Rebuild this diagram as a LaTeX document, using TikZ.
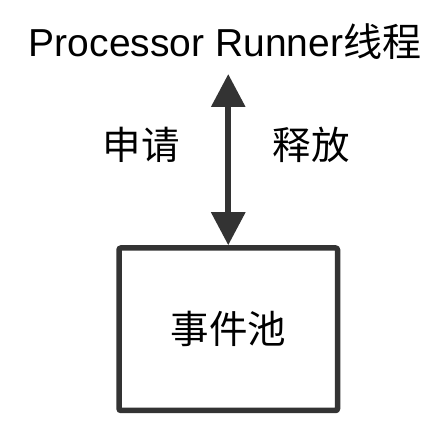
\documentclass[tikz,border=0pt]{standalone}
\usepackage{fontspec}
\setmainfont{Liberation Sans}
\newfontfamily\cjk{Noto Sans CJK SC}
\usetikzlibrary{arrows.meta}
\definecolor{ink}{HTML}{333333}
\tikzset{
  poolbox/.style={draw=ink, line width=5.5pt, rounded corners=2pt, minimum width=218.5pt, minimum height=162.5pt, inner sep=0pt},
  bigtext/.style={font=\fontsize{38.5}{40}\selectfont, text=black, inner sep=0pt},
  titletext/.style={font=\fontsize{39}{40}\selectfont, text=black, inner sep=0pt},
  arrowline/.style={draw=ink, line width=6pt, {Triangle[length=33pt,width=33pt]}-{Triangle[length=33pt,width=33pt]}}
}
\begin{document}
\begin{tikzpicture}[x=1pt,y=1pt]
\useasboundingbox (0,0) rectangle (446,446);
\fill[white] (0,0) rectangle (446,446);
\node[titletext, anchor=base] (title) at (225,389) {Processor Runner{\cjk 线程}};
\node[poolbox] (pool) at (228.25,116.75) {};
\node[bigtext] (poolt) at (pool.center) {\cjk 事件池};
\coordinate (top) at (228,372);
\draw[arrowline] (pool.north |- top) -- (pool.north);
\node[bigtext] (req) at (141,301) {\cjk 申请};
\node[bigtext] (rel) at (311,301) {\cjk 释放};
\end{tikzpicture}
\end{document}
